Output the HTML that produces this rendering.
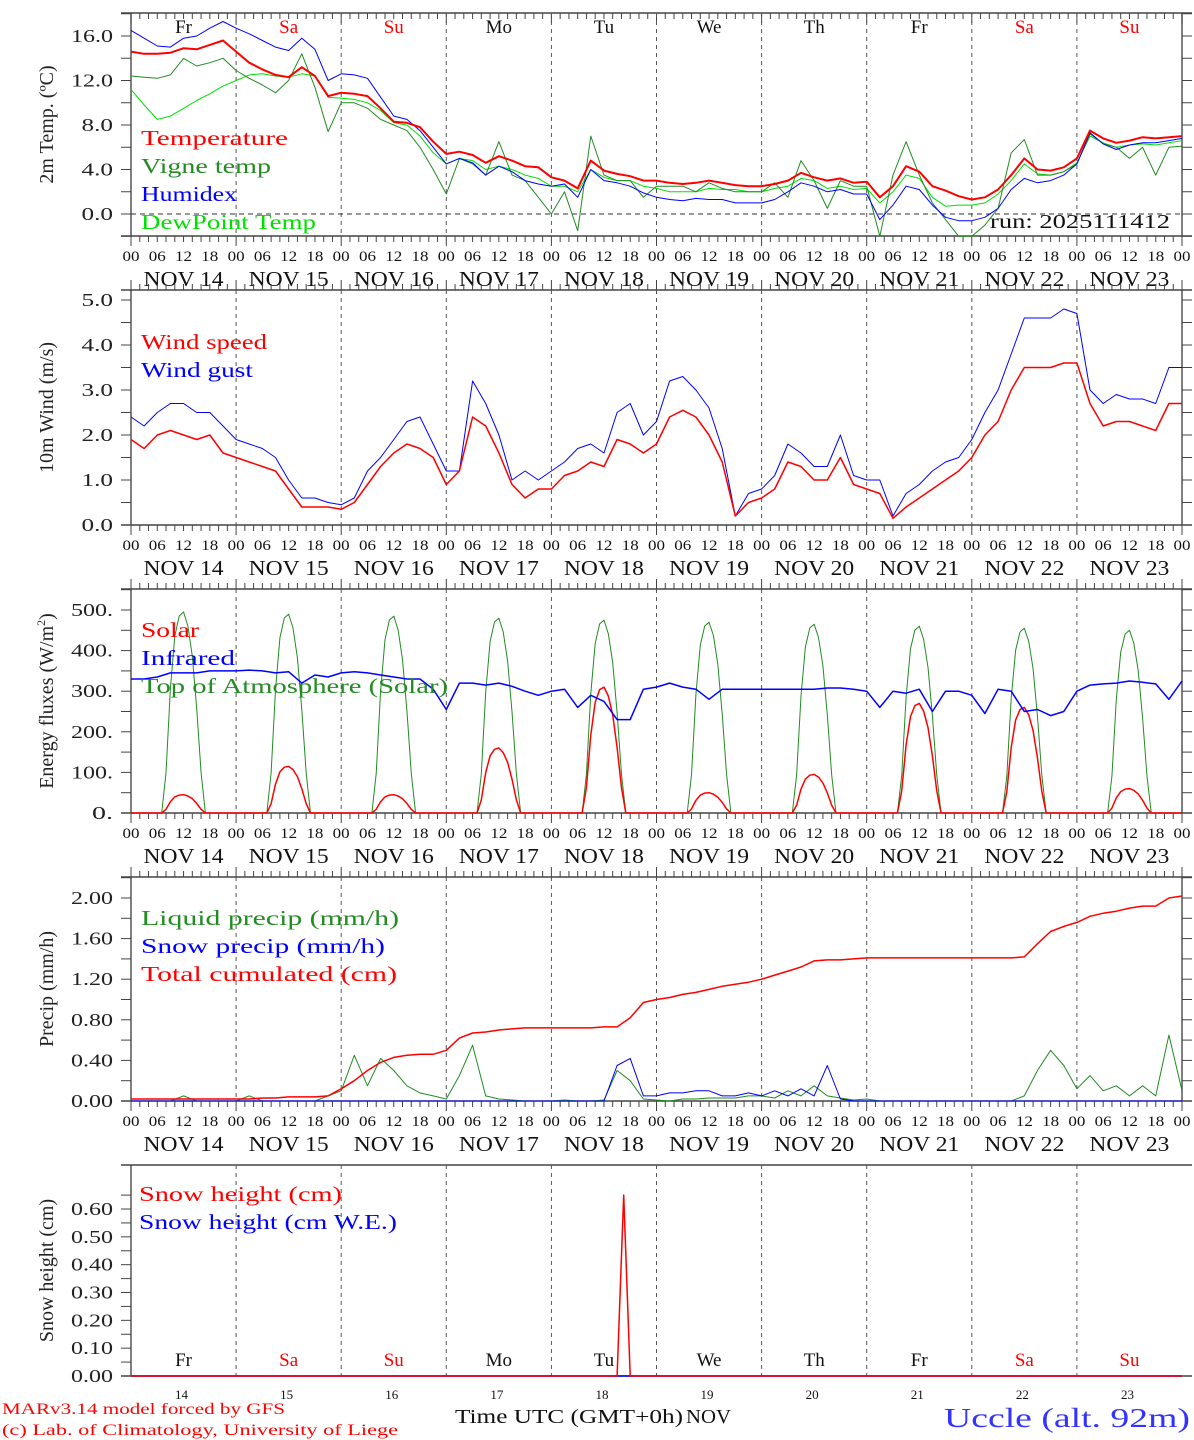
<!DOCTYPE html>
<html><head><meta charset="utf-8">
<style>
html,body{margin:0;padding:0;background:#fff;}
svg{display:block;font-family:"Liberation Serif",serif;}
</style></head>
<body>
<svg id="chart" width="1194" height="1440" viewBox="0 0 1194 1440" xmlns="http://www.w3.org/2000/svg"></svg>
<script>
// ---- data (3-hourly, 81 points from NOV 14 00 UTC to NOV 24 00 UTC) ----
const dayNames = ["Fr","Sa","Su","Mo","Tu","We","Th","Fr","Sa","Su"];
const dayNums = ["14","15","16","17","18","19","20","21","22","23"];
const hourLabels = ["00","06","12","18"];
const tempVals = [14.6,14.4,14.4,14.5,14.9,14.8,15.2,15.6, 14.6,13.6,13.0,12.5,12.3,13.2,12.4,10.6, 10.9,10.8,10.6,9.5,8.3,8.2,7.8,6.5, 5.4,5.6,5.3,4.6,5.2,4.8,4.3,4.2, 3.3,3.0,2.3,4.8,3.9,3.6,3.4,3.0, 3.0,2.8,2.7,2.8,3.0,2.8,2.6,2.5, 2.5,2.7,3.0,3.7,3.3,3.0,3.2,2.8, 2.9,1.5,2.5,4.3,3.8,2.5,2.1,1.6, 1.3,1.5,2.2,3.5,5.0,4.0,3.9,4.2, 5.0,7.5,6.8,6.4,6.6,6.9,6.8,6.9,7.0];
const humidexVals = [16.5,15.8,15.1,15.0,15.8,16.0,16.7,17.3, 16.7,16.2,15.6,15.0,14.7,15.8,14.8,12.0, 12.6,12.5,12.2,10.5,8.8,8.5,7.5,6.0, 4.5,5.0,4.6,3.5,4.3,3.8,3.0,2.7, 2.5,2.7,1.5,4.0,3.0,2.8,2.5,1.9, 1.5,1.3,1.2,1.4,1.3,1.3,1.0,1.0, 1.0,1.3,2.0,2.8,2.5,2.0,2.2,1.8, 1.8,-0.5,0.8,2.5,2.2,0.8,-0.3,-0.6, -0.6,-0.3,0.5,2.2,3.2,2.8,3.0,3.5, 4.5,7.3,6.3,5.8,6.2,6.4,6.4,6.6,6.8];
const vigneVals = [12.4,12.3,12.2,12.5,14.0,13.3,13.6,14.0, 12.9,12.2,11.6,10.9,12.0,14.4,11.4,7.4, 10.0,10.0,9.5,8.5,8.0,7.5,6.0,4.0, 1.8,5.0,4.5,3.5,6.5,3.5,3.0,1.5, 0.0,2.0,-1.5,7.0,3.5,3.0,3.0,1.5, 2.5,2.5,2.5,2.0,2.8,2.3,2.0,2.0, 2.0,2.8,1.5,4.8,3.0,0.5,3.0,2.5, 2.5,-2.0,3.5,6.5,3.5,1.0,-0.5,-2.0, -2.0,-1.0,0.5,5.5,6.7,3.5,3.5,3.8, 4.5,7.2,6.3,6.0,5.0,6.0,3.5,6.0,6.1];
const dewVals = [11.2,9.8,8.5,8.8,9.5,10.2,10.8,11.5, 12.0,12.5,12.6,12.4,12.3,12.6,12.4,10.5, 10.4,10.3,10.0,9.3,8.2,8.0,7.0,5.5, 4.5,5.0,4.8,4.0,4.3,4.0,3.5,3.2, 2.5,2.5,2.0,4.0,3.3,3.0,3.0,2.5, 2.3,2.0,2.0,2.0,2.3,2.2,2.2,2.0, 2.0,2.3,2.5,3.2,3.0,2.3,2.5,2.2, 2.3,1.0,2.0,3.5,3.2,1.5,0.7,0.8, 0.8,1.0,1.8,3.0,4.5,3.6,3.5,3.8, 4.6,7.0,6.4,6.0,6.2,6.3,6.2,6.4,6.6];
const windVals = [1.9,1.7,2.0,2.1,2.0,1.9,2.0,1.6, 1.5,1.4,1.3,1.2,0.8,0.4,0.4,0.4, 0.35,0.5,0.9,1.3,1.6,1.8,1.7,1.5, 0.9,1.2,2.4,2.2,1.6,0.9,0.6,0.8, 0.8,1.1,1.2,1.4,1.3,1.9,1.8,1.6, 1.8,2.4,2.55,2.4,2.0,1.4,0.2,0.5, 0.6,0.8,1.4,1.3,1.0,1.0,1.5,0.9, 0.8,0.7,0.15,0.4,0.6,0.8,1.0,1.2, 1.5,2.0,2.3,3.0,3.5,3.5,3.5,3.6, 3.6,2.7,2.2,2.3,2.3,2.2,2.1,2.7,2.7];
const gustVals = [2.4,2.2,2.5,2.7,2.7,2.5,2.5,2.2, 1.9,1.8,1.7,1.5,1.0,0.6,0.6,0.5, 0.45,0.6,1.2,1.5,1.9,2.3,2.4,1.8, 1.2,1.2,3.2,2.7,2.0,1.0,1.2,1.0, 1.2,1.4,1.7,1.8,1.6,2.5,2.7,2.0, 2.3,3.2,3.3,3.0,2.6,1.7,0.2,0.7, 0.8,1.1,1.8,1.6,1.3,1.3,2.0,1.1, 1.0,1.0,0.2,0.7,0.9,1.2,1.4,1.5, 1.9,2.5,3.0,3.8,4.6,4.6,4.6,4.8, 4.7,3.0,2.7,2.9,2.8,2.8,2.7,3.5,3.5];
const infraredVals = [330,330,335,345,345,345,350,350, 350,352,350,345,348,320,340,335, 345,348,345,340,335,330,330,305, 255,320,320,315,320,312,300,290, 300,305,260,290,275,230,230,305, 310,320,310,305,280,305,305,305, 305,305,305,305,305,308,308,305, 300,260,300,295,305,250,300,300, 290,245,305,300,250,255,240,250, 300,315,318,320,325,322,318,280,325];
// daily sun-cycle: hourly profile (fraction of daily peak) and daily peaks
const sunProfile = [0,0,0,0,0,0,0,0,0.2,0.62,0.88,0.98,1.0,0.93,0.78,0.52,0.2,0,0,0,0,0,0,0];
const toaPeaks = [495,490,485,480,475,470,465,460,455,450];
const solarPeaks = [45,115,45,160,310,50,95,270,260,60];
const totalPrecip = [0.02,0.02,0.02,0.02,0.02,0.02,0.02,0.02, 0.02,0.02,0.03,0.03,0.04,0.04,0.04,0.05, 0.12,0.2,0.3,0.38,0.43,0.45,0.46,0.46, 0.5,0.62,0.67,0.68,0.7,0.71,0.72,0.72, 0.72,0.72,0.72,0.72,0.73,0.73,0.82,0.97, 1.0,1.02,1.05,1.07,1.1,1.13,1.15,1.17, 1.2,1.24,1.28,1.32,1.38,1.39,1.39,1.4, 1.41,1.41,1.41,1.41,1.41,1.41,1.41,1.41, 1.41,1.41,1.41,1.41,1.42,1.55,1.67,1.72, 1.76,1.82,1.85,1.87,1.9,1.92,1.92,2.0,2.02];
const liquidPrecip = [0,0,0,0,0.05,0,0,0, 0,0.05,0,0,0,0,0,0.05, 0.1,0.45,0.15,0.42,0.3,0.15,0.08,0.05, 0.02,0.25,0.55,0.05,0.02,0.01,0,0, 0,0.01,0,0,0.01,0.3,0.2,0.02, 0.01,0,0.02,0.02,0.03,0.03,0.03,0.05, 0.05,0.03,0.1,0.05,0.15,0.05,0.03,0.01, 0.02,0,0,0,0,0,0,0, 0,0,0,0,0.05,0.3,0.5,0.35, 0.12,0.25,0.1,0.15,0.05,0.15,0.05,0.65,0.1];
const snowPrecip = [0,0,0,0,0,0,0,0, 0,0,0,0,0,0,0,0, 0,0,0,0,0,0,0,0, 0,0,0,0,0,0,0,0, 0,0,0,0,0,0.35,0.42,0.05, 0.05,0.08,0.08,0.1,0.1,0.05,0.05,0.08, 0.05,0.1,0.05,0.12,0.05,0.35,0.02,0, 0,0,0,0,0,0,0,0, 0,0,0,0,0,0,0,0, 0,0,0,0,0,0,0,0,0];
const snowHeightHours = [0,111,112.5,114,240];
const snowHeightVals = [0,0,0.65,0,0];
const snowWEVals = [0,0,0,0,0];

// ---- geometry ----
const NS="http://www.w3.org/2000/svg";
const svg=document.getElementById('chart');
const X0=131, X1=1182;
function X(h){return X0+h*(X1-X0)/240;}
function mk(tag,attrs,parent){const e=document.createElementNS(NS,tag);for(const k in attrs)e.setAttribute(k,attrs[k]);(parent||svg).appendChild(e);return e;}
function txt(s,x,y,size,fill,anchor,parent,len){const t=mk('text',{x:x,y:y,'font-size':size,fill:fill||'#000','text-anchor':anchor||'start'},parent);if(len){t.setAttribute('textLength',len);t.setAttribute('lengthAdjust','spacingAndGlyphs');}t.textContent=s;return t;}

function panel(cfg){
  const g=mk('g',{});
  
  
  const Y=v=>cfg.y0-(v-0)*cfg.scale;
  mk('line',{x1:X0,y1:cfg.top,x2:X0,y2:cfg.bottom,stroke:'#555','stroke-width':1.5},g);
  if(!cfg.noTopFrame){
    mk('line',{x1:X1,y1:cfg.top,x2:X1,y2:cfg.bottom,stroke:'#555','stroke-width':1.5},g);
  }
  mk('line',{x1:121,y1:cfg.top,x2:X1+10,y2:cfg.top,stroke:'#444','stroke-width':1.5},g);
  mk('line',{x1:121,y1:cfg.bottom,x2:X1+10,y2:cfg.bottom,stroke:'#444','stroke-width':1.5},g);
  if(!cfg.noTopFrame){
    let d='';
    for(let h=0;h<=240;h+=2){
      const len=(h%24==0)?10:6;
      d+=`M${X(h)} ${cfg.top}v${cfg.topTickDir*len}`;
      d+=`M${X(h)} ${cfg.bottom}v${len}`;
    }
    mk('path',{d:d,stroke:'#444','stroke-width':1},g);
  }
  for(let i=1;i<10;i++){
    const l=mk('line',{x1:X(i*24),y1:cfg.top,x2:X(i*24),y2:cfg.bottom,stroke:'#555','stroke-width':1,'stroke-dasharray':'4,4'},g);
    
    
  }
  for(let v=cfg.ymin;v<=cfg.ymax+1e-9;v+=cfg.minor){
    const y=Y(v);
    mk('line',{x1:121,y1:y,x2:X0,y2:y,stroke:'#444','stroke-width':1},g);
    if(!cfg.noTopFrame) mk('line',{x1:X1,y1:y,x2:X1+10,y2:y,stroke:'#444','stroke-width':1},g);
  }
  cfg.ticks.forEach((lab,i)=>{
    const t=txt(lab,113,Y(cfg.tickVals[i])+6,18,'#222','end',g,lab.length*10.5);
    
    
  });
  const yt=mk('text',{x:0,y:0,'font-size':20,fill:'#222','text-anchor':'middle',transform:`translate(53,${(cfg.top+cfg.bottom)/2}) rotate(-90)`},g);
  yt.innerHTML=cfg.title;
  
  
  if(cfg.hourLabelY){
    for(let d=0;d<10;d++){
      hourLabels.forEach((hl,k)=>{txt(hl,X(d*24+k*6),cfg.hourLabelY,15,'#111','middle',g,17);});
      const nl=txt('NOV '+dayNums[d],X(d*24+12),cfg.hourLabelY+25,21,'#111','middle',g,80);
      
      
    }
    txt('00',X(240),cfg.hourLabelY,15,'#111','middle',g,17);
  }
  return {g,Y};
}
function series(p,vals,color,w,name,hours){
  let d='';
  vals.forEach((v,i)=>{const h=hours?hours[i]:i*3;d+=(i?'L':'M')+X(h).toFixed(1)+' '+p.Y(v).toFixed(1);});
  const path=mk('path',{d:d,fill:'none',stroke:color,'stroke-width':w,'stroke-linejoin':'round'},p.g);
  
  
}
function legend(p,items,x,y0){
  items.forEach((it,i)=>{
    const t=txt(it[0],x,y0+i*28,21,it[1],'start',p.g,it[2]);
    
    
  });
}

// ---- Panel 1: Temperature ----
const p1=panel({name:'temperature-panel',top:13,bottom:236,topTickDir:1,y0:214,scale:11.125,ymin:-2,ymax:18,minor:2,
  ticks:['0.0','4.0','8.0','12.0','16.0'],tickVals:[0,4,8,12,16],title:'2m Temp. (ºC)',hourLabelY:261});
mk('line',{x1:X0,y1:214,x2:X1,y2:214,stroke:'#333','stroke-width':1,'stroke-dasharray':'5,4'},p1.g);
dayNames.forEach((n,d)=>{const t=txt(n,X(d*24+12),33,19,(n=='Sa'||n=='Su')?'#f00':'#111','middle',p1.g);
  });
series(p1,dewVals,'#00e000',1,'dewpoint-line');
series(p1,vigneVals,'#228b22',1,'vigne-temp-line');
series(p1,humidexVals,'#0000ff',1,'humidex-line');
series(p1,tempVals,'#ff0000',2,'temperature-line');
legend(p1,[['Temperature','#f00',147],['Vigne temp','#228b22',130],['Humidex','#00f',96],['DewPoint Temp','#00e000',175]],141,145);
const run=txt('run: 2025111412',1170,228,20,'#111','end',p1.g,180);


// ---- Panel 2: Wind ----
const p2=panel({name:'wind-panel',top:290,bottom:525,topTickDir:-1,y0:525,scale:45,ymin:0,ymax:5,minor:0.5,
  ticks:['0.0','1.0','2.0','3.0','4.0','5.0'],tickVals:[0,1,2,3,4,5],title:'10m Wind (m/s)',hourLabelY:550});
series(p2,gustVals,'#0000ff',1,'wind-gust-line');
series(p2,windVals,'#ff0000',1.5,'wind-speed-line');
legend(p2,[['Wind speed','#f00',126],['Wind gust','#00f',112]],141,349);

// ---- Panel 3: Energy ----
const p3=panel({name:'energy-panel',top:589,bottom:813,topTickDir:-1,y0:813,scale:0.406,ymin:0,ymax:550,minor:50,
  ticks:['0.','100.','200.','300.','400.','500.'],tickVals:[0,100,200,300,400,500],title:'Energy fluxes (W/m<tspan font-size="12" dy="-8">2</tspan><tspan dy="8">)</tspan>',hourLabelY:838});
const toaVals=[],solarVals=[],sunHours=[];
for(let d=0;d<10;d++){for(let h=0;h<24;h++){sunHours.push(d*24+h);toaVals.push(toaPeaks[d]*sunProfile[h]);solarVals.push(solarPeaks[d]*sunProfile[h]);}}
sunHours.push(240);toaVals.push(0);solarVals.push(0);
series(p3,toaVals,'#228b22',1,'toa-solar-line',sunHours);
series(p3,solarVals,'#ff0000',1.5,'solar-line',sunHours);
series(p3,infraredVals,'#0000ff',1.5,'infrared-line');
legend(p3,[['Solar','#f00',58],['Infrared','#00f',94],['Top of Atmosphere (Solar)','#228b22',307]],141,637);

// ---- Panel 4: Precip ----
const p4=panel({name:'precip-panel',top:877,bottom:1101,topTickDir:-1,y0:1101,scale:101.5,ymin:0,ymax:2.2,minor:0.2,
  ticks:['0.00','0.40','0.80','1.20','1.60','2.00'],tickVals:[0,0.4,0.8,1.2,1.6,2.0],title:'Precip (mm/h)',hourLabelY:1126});
series(p4,liquidPrecip,'#228b22',1,'liquid-precip-line');
series(p4,snowPrecip,'#0000ff',1,'snow-precip-line');
series(p4,totalPrecip,'#ff0000',1.5,'total-cumulated-line');
legend(p4,[['Liquid precip (mm/h)','#228b22',258],['Snow precip (mm/h)','#00f',244],['Total cumulated (cm)','#f00',256]],141,925);

// ---- Panel 5: Snow height ----
const p5=panel({name:'snow-panel',top:1165,bottom:1376,noTopFrame:true,y0:1376,scale:278.3,ymin:0,ymax:0.65,minor:0.05,
  ticks:['0.00','0.10','0.20','0.30','0.40','0.50','0.60'],tickVals:[0,0.1,0.2,0.3,0.4,0.5,0.6],title:'Snow height (cm)'});
dayNames.forEach((n,d)=>{
  const t=txt(n,X(d*24+12),1366,19,(n=='Sa'||n=='Su')?'#f00':'#111','middle',p5.g);
  
  txt(dayNums[d],X(d*24+12)-2,1399,13,'#111','middle',p5.g);
});
series(p5,snowWEVals,'#0000ff',1.5,'snow-we-line',snowHeightHours);
series(p5,snowHeightVals,'#ff0000',1.5,'snow-height-line',snowHeightHours);
legend(p5,[['Snow height (cm)','#f00',203],['Snow height (cm W.E.)','#00f',258]],139,1201);

// footer
const f1=txt('MARv3.14 model forced by GFS',2,1414,16,'#f00','start',null,283);

const f2=txt('(c) Lab. of Climatology, University of Liege',2,1435,16,'#f00','start',null,396);

const xt=txt('Time UTC (GMT+0h)',455,1423,20,'#111','start',null,228);

txt('NOV',686,1423,20,'#111','start',null,45);
const loc=txt('Uccle (alt. 92m)',1190,1427,27,'#3333ff','end',null,246);

</script>
</body></html>
